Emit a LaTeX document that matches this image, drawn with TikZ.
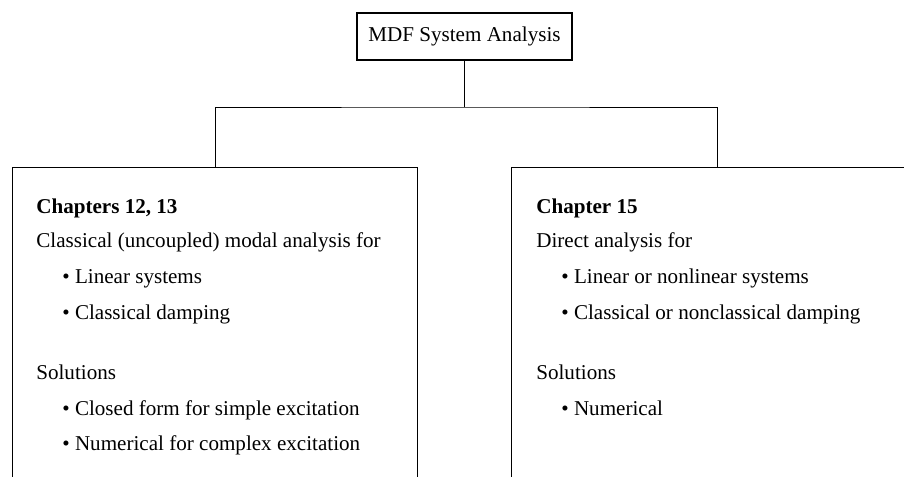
\documentclass[tikz,border=0pt]{standalone}
\usepackage{fontspec}
\setmainfont{Liberation Serif}
\usetikzlibrary{positioning}
\tikzset{
  topbox/.style={draw,line width=0.8pt,minimum width=4.3cm,minimum height=0.94cm,inner sep=0pt,font=\fontsize{12}{14}\selectfont},
  chbox/.style={draw,line width=0.8pt,anchor=north west,minimum height=6.6cm,inner sep=0pt},
  txt/.style={anchor=base west,inner sep=0pt,font=\fontsize{12}{14}\selectfont},
  link/.style={line width=0.5pt}
}
\begin{document}
\begin{tikzpicture}[x=1cm,y=1cm]
    \useasboundingbox (0,0) rectangle (18.08,9.52);
    \clip (0,0) rectangle (18.08,9.52);
    \node[topbox] (mdf) at (9.29,8.79) {MDF System Analysis};
    \node[chbox,minimum width=8.1cm] (left) at (0.24,6.18) {};
    \node[chbox,minimum width=8.24cm] (right) at (10.22,6.18) {};
    \coordinate (fork) at (9.29,7.38);
    \draw[link] (mdf.south) -- (fork);
    \draw[link] (left.north) |- (fork) -| (right.north);
    % left box: modal analysis
    \node[txt] (lhead) at (0.72,5.25) {\textbf{Chapters 12, 13}};
    \node[txt] (lbody) at (0.72,4.58) {Classical (uncoupled) modal analysis for};
    \node[txt] (lsys) at (1.24,3.85) {\textbullet\ Linear systems};
    \node[txt] (ldamp) at (1.24,3.14) {\textbullet\ Classical damping};
    \node[txt] (lsol) at (0.72,1.94) {Solutions};
    \node[txt] (lclosed) at (1.24,1.21) {\textbullet\ Closed form for simple excitation};
    \node[txt] (lnum) at (1.24,0.52) {\textbullet\ Numerical for complex excitation};
    % right box: direct analysis
    \node[txt] (rhead) at (10.72,5.25) {\textbf{Chapter 15}};
    \node[txt] (rbody) at (10.72,4.58) {Direct analysis for};
    \node[txt] (rsys) at (11.22,3.85) {\textbullet\ Linear or nonlinear systems};
    \node[txt] (rdamp) at (11.22,3.14) {\textbullet\ Classical or nonclassical damping};
    \node[txt] (rsol) at (10.72,1.94) {Solutions};
    \node[txt] (rnum) at (11.22,1.21) {\textbullet\ Numerical};
\end{tikzpicture}
\end{document}
